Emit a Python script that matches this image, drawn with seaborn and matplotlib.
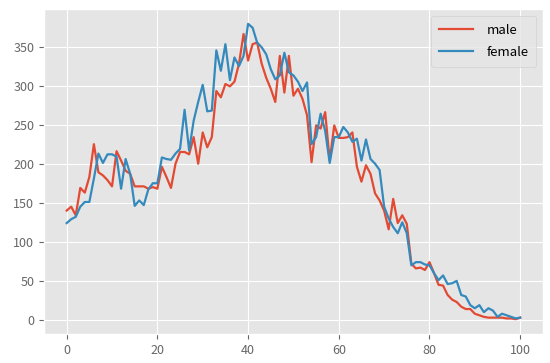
import matplotlib
matplotlib.use("Agg")
import matplotlib.pyplot as plt
import numpy as np
import pandas as pd
import seaborn as sns

# age 0..100, counts per age
ages = list(range(101))
male = [
    140, 145, 134, 169, 163, 183, 225, 189, 185, 179,
    171, 216, 204, 191, 187, 171, 171, 171, 168, 170,
    168, 196, 183, 169, 200, 215, 215, 212, 234, 200,
    240, 221, 234, 293, 285, 302, 299, 305, 328, 366,
    332, 353, 355, 328, 310, 296, 279, 338, 291, 338,
    287, 296, 283, 262, 202, 249, 245, 266, 204, 249,
    233, 233, 234, 240, 196, 177, 198, 187, 162, 153,
    140, 116, 155, 124, 134, 123, 72, 66, 67, 64,
    74, 60, 45, 44, 32, 26, 23, 17, 14, 14,
    8, 6, 4, 3, 3, 3, 3, 2, 2, 1,
    3,
]
female = [
    124, 129, 132, 145, 151, 151, 181, 213, 201, 212,
    212, 209, 168, 206, 187, 146, 153, 147, 167, 175,
    175, 208, 206, 205, 213, 219, 269, 217, 255, 279,
    301, 267, 268, 345, 319, 353, 307, 336, 325, 338,
    379, 374, 355, 349, 340, 321, 308, 313, 342, 317,
    313, 305, 293, 304, 225, 234, 264, 242, 201, 234,
    234, 247, 240, 228, 232, 204, 231, 206, 200, 192,
    145, 130, 119, 111, 125, 111, 70, 74, 74, 71,
    70, 60, 51, 57, 46, 47, 50, 32, 30, 19,
    15, 19, 10, 15, 12, 4, 8, 6, 4, 2,
    3,
]

plt.style.use("ggplot")
plt.rcParams["font.family"] = ["Noto Sans CJK KR", "DejaVu Sans"]

fig, ax = plt.subplots(figsize=(5.5, 3.63), dpi=100)
fig.subplots_adjust(left=0.08, right=0.987, bottom=0.08, top=0.975)

sns.lineplot(x=ages, y=male, ax=ax, label="male", color="#E24A33", linewidth=1.6)
sns.lineplot(x=ages, y=female, ax=ax, label="female", color="#348ABD", linewidth=1.6)

ax.set_xticks([0, 20, 40, 60, 80, 100])
ax.set_yticks([0, 50, 100, 150, 200, 250, 300, 350])
ax.tick_params(labelsize=9, colors="#666666")
ax.legend(loc="upper right", fontsize=9.5, handlelength=2.6,
          labelspacing=0.7, handletextpad=1.0, borderpad=0.6)

fig.savefig("out.png", dpi=100)
